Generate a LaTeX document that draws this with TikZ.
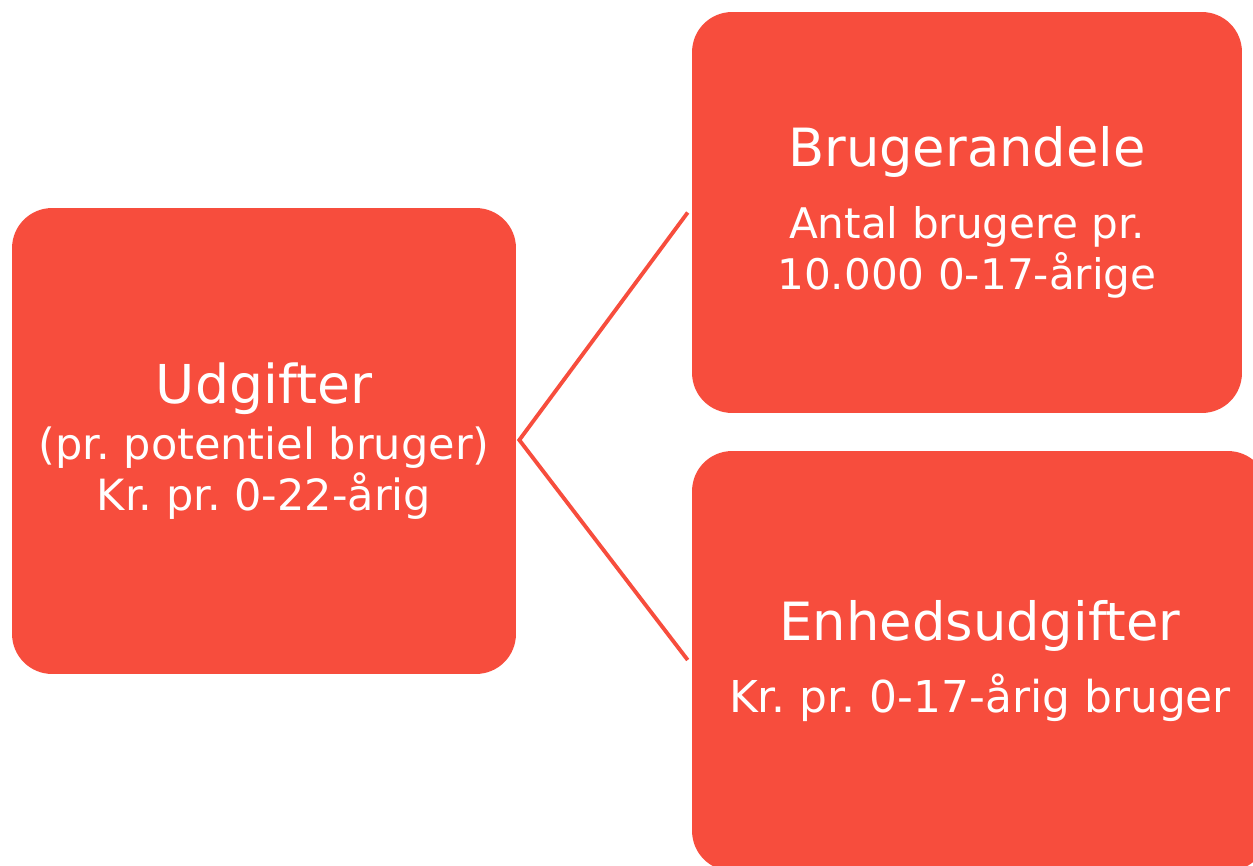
\documentclass[tikz,border=0pt]{standalone}
\usepackage{fontspec}
\setmainfont{DejaVu Sans}
\usetikzlibrary{calc}
\definecolor{boxred}{RGB}{247,77,61}
\frenchspacing
\begin{document}
\begin{tikzpicture}[x=0.02cm,y=-0.02cm,line join=miter,
	kasse/.style={fill=boxred,text=white,rounded corners=0.8cm,align=center,inner sep=0pt,font=\fontsize{24.5}{29}\selectfont},
	streg/.style={draw=boxred,line width=2.2pt}]
	\useasboundingbox (0,0) rectangle (1253,865);
	\clip (0,0) rectangle (1253,865);
	% boxes
	\node[kasse,minimum width=10.08cm,minimum height=9.32cm] (udg) at (264,441) {{\fontsize{30.5}{36}\selectfont Udgifter}\\[3pt](pr. potentiel bruger)\\Kr. pr. 0-22-årig};
	\node[kasse,minimum width=11cm,minimum height=8.02cm] (bru) at (967,212.5) {{\fontsize{30}{36}\selectfont Brugerandele}\\[12pt]{\fontsize{24}{27}\selectfont Antal brugere pr.}\\{\fontsize{24}{27}\selectfont 10.000 0-17-årige}};
	\node[kasse,minimum width=11.52cm,minimum height=8.4cm] (enh) at (980,661) {{\fontsize{30}{36}\selectfont Enhedsudgifter}\\[12pt]{\fontsize{25}{28}\selectfont Kr. pr. 0-17-årig bruger}};
	% connectors
	\coordinate (spids) at ($(udg.east)+(3,-1)$);
	\draw[streg] ($(bru.west)+(-4,0)$) -- (spids) -- ($(enh.west)+(-4,-1)$);
\end{tikzpicture}
\end{document}
